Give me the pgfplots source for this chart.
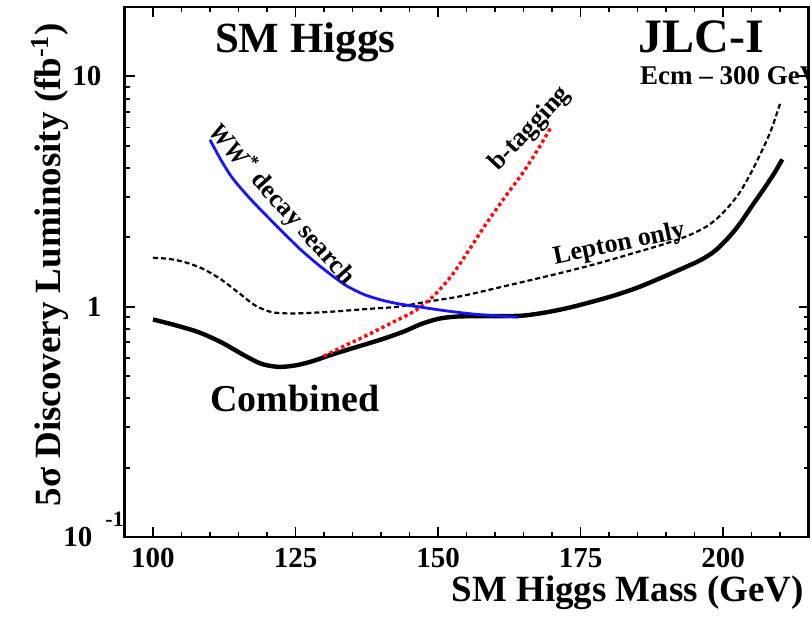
\documentclass[border=0pt]{standalone}
\usepackage{fontspec}
\setmainfont{Liberation Serif}
\usepackage{pgfplots}
\pgfplotsset{compat=1.18}
\definecolor{wwblue}{RGB}{20,20,255}
\definecolor{bred}{RGB}{255,10,10}
\begin{document}
\begin{tikzpicture}
\useasboundingbox (-62.25pt,-40pt) rectangle (343.75pt,268.5pt);
\begin{axis}[
  scale only axis, width=342pt, height=265pt,
  ymode=log, xmin=95, xmax=215, ymin=0.1, ymax=20,
  xtick={100,125,150,175,200}, xticklabels={100,125,150,175,200},
  minor xtick={105,110,...,210},
  ytick={0.1,1,10},
  yticklabels={{10\hspace{4.5pt}\rlap{\hspace{2pt}\smash{\raisebox{10pt}{\fontsize{11}{11}\selectfont -1}}}},1,10},
  minor ytick={0.2,0.3,0.4,0.5,0.6,0.7,0.8,0.9,2,3,4,5,6,7,8,9},
  tick pos=both, tick align=inside,
  major tick length=5pt, minor tick length=2.5pt,
  tick style={black, line width=0.9pt},
  axis line style={line width=1.4pt},
  ticklabel style={font=\fontsize{14.5}{16}\selectfont\bfseries},
  yticklabel style={xshift=-8pt},
  xticklabel style={yshift=-2pt},
  xlabel={SM Higgs Mass (GeV)},
  ylabel={5σ Discovery Luminosity (fb\textsuperscript{-1})},
  every axis x label/.style={at={(axis description cs:0.994,-0.0717)}, anchor=north east, inner sep=0pt, font=\fontsize{18.5}{20}\selectfont\bfseries},
  every axis y label/.style={at={(axis description cs:-0.137,0.514)}, rotate=90, anchor=north, inner sep=0pt, font=\fontsize{18.5}{20}\selectfont\bfseries},
]
% Combined
\addplot[black, line width=2.2pt, smooth, tension=0.5] coordinates {
(100,0.88)(104,0.83)(108,0.775)(112,0.70)(116,0.615)(119,0.565)(122,0.548)(125,0.556)(128,0.58)(131,0.615)(135,0.66)(140,0.72)(144,0.78)(147,0.84)(150,0.885)(153,0.905)(157,0.91)(161,0.91)(165,0.915)(169,0.945)(173,0.99)(177,1.05)(181,1.12)(185,1.21)(189,1.33)(193,1.47)(196,1.59)(198.5,1.74)(201,2.0)(203,2.3)(205,2.72)(207,3.2)(209,3.8)(210.4,4.36)
};
% Lepton only
\addplot[black, line width=1.1pt, dash pattern=on 2.5pt off 1.5pt, smooth, tension=0.5] coordinates {
(100,1.63)(103,1.61)(106,1.55)(109,1.45)(112,1.31)(115,1.15)(118,1.01)(121,0.945)(125,0.935)(131,0.95)(137,0.975)(143,1.0)(148,1.05)(154,1.11)(160,1.2)(166,1.30)(172,1.41)(178,1.54)(184,1.70)(190,1.88)(194,2.04)(197,2.22)(199,2.42)(201,2.72)(203,3.15)(205,3.85)(207,4.85)(208.5,5.9)(210,7.6)
};
% b-tagging
\addplot[bred, line width=1.7pt, dash pattern=on 1.7pt off 1.5pt, smooth, tension=0.5] coordinates {
(130,0.61)(133,0.665)(137,0.74)(141,0.83)(145,0.93)(147,1.0)(149,1.1)(151,1.24)(153,1.43)(156,1.85)(159,2.4)(162,3.05)(165,3.85)(167.5,4.8)(169.8,6.0)
};
% WW* decay search
\addplot[wwblue, line width=1.4pt, smooth, tension=0.5] coordinates {
(110,5.3)(112,4.3)(114,3.6)(117,2.95)(120,2.47)(123,2.08)(126,1.76)(129,1.52)(131.6,1.355)(134,1.23)(137,1.13)(140,1.07)(143,1.03)(147,0.995)(152,0.955)(157,0.925)(164,0.9)
};
\node[anchor=base, font=\fontsize{21.5}{24}\selectfont\bfseries] at (axis cs:126.7,12.7) {SM Higgs};
\node[anchor=base, font=\fontsize{24}{26}\selectfont\bfseries] at (axis cs:196.2,12.7) {JLC-I};
\node[anchor=base west, inner sep=0pt, font=\fontsize{13.5}{15}\selectfont\bfseries] at (axis cs:185.4,9.23) {Ecm – 300 GeV};
\node[anchor=base west, inner sep=0pt, font=\fontsize{19}{21}\selectfont\bfseries] at (axis cs:110,0.35) {Combined};
\node[rotate=-48, font=\fontsize{13}{15}\selectfont\bfseries] at (axis cs:122.6,2.78) {\textit{WW}\textsuperscript{*} decay search};
\node[rotate=47, font=\fontsize{13}{15}\selectfont\bfseries] at (axis cs:166.2,5.9) {b-tagging};
\node[rotate=12, font=\fontsize{13}{15}\selectfont\bfseries] at (axis cs:181.8,1.86) {Lepton only};
\end{axis}
\end{tikzpicture}
\end{document}
